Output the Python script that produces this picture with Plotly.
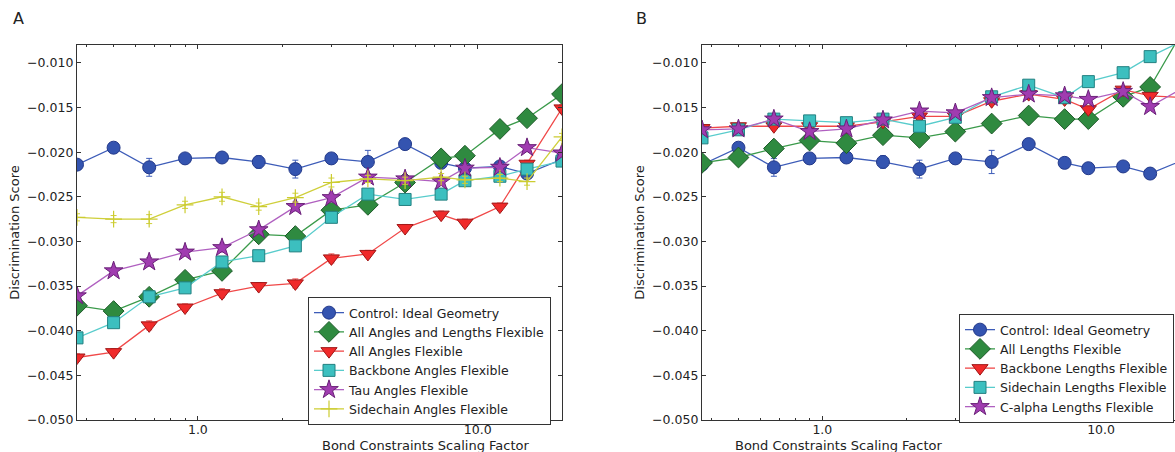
import math
import plotly.graph_objects as go

# ---------------- data ----------------
scale = [0.37, 0.5, 0.67, 0.9, 1.22, 1.65, 2.23, 3.0, 4.05, 5.5, 7.4, 9.0, 12.0, 15.0, 20.0]

control = [-0.0214, -0.0195, -0.0217, -0.0207, -0.0206, -0.0211, -0.0219, -0.0207,
           -0.0211, -0.0191, -0.0212, -0.0218, -0.0216, -0.0224, -0.0208]
control_err = [0.0005, 0.0005, 0.0010, 0.0004, 0.0004, 0.0007, 0.0010, 0.0004,
               0.0013, 0.0004, 0.0004, 0.0004, 0.0004, 0.0004, 0.0004]

# Panel A
all_angles_lengths = [-0.0372, -0.0378, -0.0362, -0.0343, -0.0333, -0.0292, -0.0294, -0.0265,
                      -0.0259, -0.0234, -0.0207, -0.0204, -0.0174, -0.0162, -0.0135]
all_angles = [-0.0430, -0.0424, -0.0394, -0.0374, -0.0358, -0.0350, -0.0347, -0.0319,
              -0.0314, -0.0285, -0.0270, -0.0279, -0.0261, -0.0213, -0.0151]
backbone_angles = [-0.0408, -0.0391, -0.0362, -0.0352, -0.0323, -0.0316, -0.0305, -0.0273,
                   -0.0247, -0.0253, -0.0247, -0.0232, -0.0227, -0.0219, -0.0210]
tau_angles = [-0.0361, -0.0333, -0.0323, -0.0312, -0.0307, -0.0287, -0.0261, -0.0251,
              -0.0228, -0.0230, -0.0233, -0.0218, -0.0217, -0.0195, -0.0201]
sidechain_angles = [-0.0273, -0.0275, -0.0275, -0.0259, -0.0250, -0.0261, -0.0251, -0.0234,
                    -0.0230, -0.0232, -0.0228, -0.0231, -0.0229, -0.0233, -0.0183]
err_a = [0.0004, 0.0004, 0.0005, 0.0004, 0.0005, 0.0004, 0.0005, 0.0005,
         0.0004, 0.0004, 0.0004, 0.0004, 0.0004, 0.0004, 0.0004]

# Panel B
all_lengths = [-0.0212, -0.0206, -0.0196, -0.0187, -0.0190, -0.0181, -0.0184, -0.0177,
               -0.0168, -0.0159, -0.0163, -0.0163, -0.0138, -0.0127, -0.0060]
backbone_lengths = [-0.0173, -0.0171, -0.0171, -0.0171, -0.0171, -0.0166, -0.0160, -0.0160,
                    -0.0143, -0.0135, -0.0141, -0.0152, -0.0130, -0.0137, -0.0139]
sidechain_lengths = [-0.0184, -0.0175, -0.0163, -0.0165, -0.0167, -0.0163, -0.0171, -0.0161,
                     -0.0138, -0.0125, -0.0139, -0.0121, -0.0111, -0.0093, -0.0074]
calpha_lengths = [-0.0175, -0.0174, -0.0163, -0.0177, -0.0174, -0.0164, -0.0154, -0.0156,
                  -0.0139, -0.0135, -0.0137, -0.0141, -0.0132, -0.0149, -0.0127]
err_b = [0.0003] * 15

names_a = ["Control: Ideal Geometry", "All Angles and Lengths Flexible", "All Angles Flexible",
           "Backbone Angles Flexible", "Tau Angles Flexible", "Sidechain Angles Flexible"]
names_b = ["Control: Ideal Geometry", "All Lengths Flexible", "Backbone Lengths Flexible",
           "Sidechain Lengths Flexible", "C-alpha Lengths Flexible"]

x_ticks = [1.0, 10.0]
x_ticktext = ["1.0", "10.0"]
x_minor = [0.4, 0.5, 0.6, 0.7, 0.8, 0.9, 2, 3, 4, 5, 6, 7, 8, 9, 20]
y_ticks = [-0.050, -0.045, -0.040, -0.035, -0.030, -0.025, -0.020, -0.015, -0.010]

# ---------------- styles ----------------
STY = {
    "control":  dict(fill="#3454b0", edge="#23398a", line="#3d5cb8", symbol="circle", size=13),
    "green":    dict(fill="#2f8a40", edge="#1d5a28", line="#3a9a4a", symbol="diamond", size=16),
    "red":      dict(fill="#f02a2a", edge="#a01818", line="#f04848", symbol="triangle-down", size=14),
    "cyan":     dict(fill="#3cbfbf", edge="#238080", line="#58cccc", symbol="square", size=12),
    "purple":   dict(fill="#a03cb0", edge="#6a2078", line="#b060c0", symbol="star", size=14),
    "yellow":   dict(fill="#cccc30", edge="#cccc30", line="#cfcf3a", symbol="cross-thin", size=12),
}

FONT = "DejaVu Sans"
fig = go.Figure()


def add(y, err, name, key, xa, ya, legend):
    s = STY[key]
    marker = dict(symbol=s["symbol"], size=s["size"], color=s["fill"],
                  line=dict(color=s["edge"], width=1))
    if key == "yellow":
        marker = dict(symbol="cross-thin", size=s["size"], color=s["fill"],
                      line=dict(color=s["fill"], width=1.2))
    fig.add_trace(go.Scatter(
        x=scale, y=y, name=name, mode="lines+markers",
        line=dict(color=s["line"], width=1.3),
        marker=marker,
        error_y=dict(type="data", array=err, color=s["line"], thickness=1, width=3),
        xaxis=xa, yaxis=ya, legend=legend,
    ))


add(control, control_err, names_a[0], "control", "x", "y", "legend")
add(all_angles_lengths, err_a, names_a[1], "green", "x", "y", "legend")
add(all_angles, err_a, names_a[2], "red", "x", "y", "legend")
add(backbone_angles, err_a, names_a[3], "cyan", "x", "y", "legend")
add(tau_angles, err_a, names_a[4], "purple", "x", "y", "legend")
add(sidechain_angles, err_a, names_a[5], "yellow", "x", "y", "legend")

add(control, control_err, names_b[0], "control", "x2", "y2", "legend2")
add(all_lengths, err_b, names_b[1], "green", "x2", "y2", "legend2")
add(backbone_lengths, err_b, names_b[2], "red", "x2", "y2", "legend2")
add(sidechain_lengths, err_b, names_b[3], "cyan", "x2", "y2", "legend2")
add(calpha_lengths, err_b, names_b[4], "purple", "x2", "y2", "legend2")

# ---------------- layout ----------------
W, H = 1175, 452
ML, MR, MT, MB = 77, 0, 45, 32
PW = W - ML - MR
PH = H - MT - MB


def px_x(p):
    return (p - ML) / PW


def px_y(p):
    return (H - MB - p) / PH


axis_common = dict(
    showline=True, linecolor="#333333", linewidth=1.3, showgrid=False, zeroline=False,
    ticks="inside", ticklen=4, tickcolor="#333333", tickwidth=1,
    tickfont=dict(family=FONT, size=12.5, color="#222222"),
)

xa_common = dict(axis_common, type="log", tickmode="array", tickvals=x_ticks, ticktext=x_ticktext,
                 minor=dict(ticks="inside", ticklen=2, tickcolor="#333333", tickvals=x_minor),
                 automargin=False, ticklabelstandoff=-2)
ya_common = dict(axis_common, range=[-0.050, -0.008], tickmode="array", tickvals=y_ticks,
                 tickformat=".3f", automargin=False,
                 title=dict(text="Discrimination Score", font=dict(family=FONT, size=13, color="#222222"),
                            standoff=4))

LEG_FONT = dict(family=FONT, size=12.5, color="#222222")

fig.update_layout(
    width=W, height=H,
    margin=dict(l=ML, r=MR, t=MT, b=MB, autoexpand=False),
    plot_bgcolor="white", paper_bgcolor="white",
    font=dict(family=FONT, size=12, color="#222222"),
    xaxis=dict(xa_common, domain=[0, px_x(562)], range=[math.log10(0.37), math.log10(20)],
               mirror="ticks", anchor="y"),
    yaxis=dict(ya_common, domain=[0, 1], mirror="ticks", anchor="x"),
    xaxis2=dict(xa_common, domain=[px_x(702), 1], range=[math.log10(0.37), 1.2652],
                mirror="ticks", anchor="y2"),
    yaxis2=dict(ya_common, domain=[0, 1], mirror=False, anchor="x2"),
    legend=dict(x=px_x(308), y=px_y(297), xanchor="left", yanchor="top",
                bgcolor="white", bordercolor="#333333", borderwidth=1,
                font=LEG_FONT, itemwidth=30, tracegroupgap=0),
    legend2=dict(x=px_x(959), y=px_y(314), xanchor="left", yanchor="top",
                 bgcolor="white", bordercolor="#333333", borderwidth=1,
                 font=LEG_FONT, itemwidth=30, tracegroupgap=0),
    showlegend=True,
    annotations=[
        dict(text="A", xref="paper", yref="paper", x=px_x(11), y=px_y(7),
             showarrow=False, font=dict(family=FONT, size=16, color="#222222")),
        dict(text="B", xref="paper", yref="paper", x=px_x(641), y=px_y(7),
             showarrow=False, font=dict(family=FONT, size=16, color="#222222")),
        dict(text="Bond Constraints Scaling Factor", xref="paper", yref="paper",
             x=px_x(320), y=px_y(445), showarrow=False, yanchor="middle",
             font=dict(family=FONT, size=13, color="#222222")),
        dict(text="Bond Constraints Scaling Factor", xref="paper", yref="paper",
             x=px_x(944), y=px_y(445), showarrow=False, yanchor="middle",
             font=dict(family=FONT, size=13, color="#222222")),
    ],
)

fig.write_html("out.html", config={"displayModeBar": False},
               post_script="document.body.style.margin='0';document.body.style.overflow='hidden';")
